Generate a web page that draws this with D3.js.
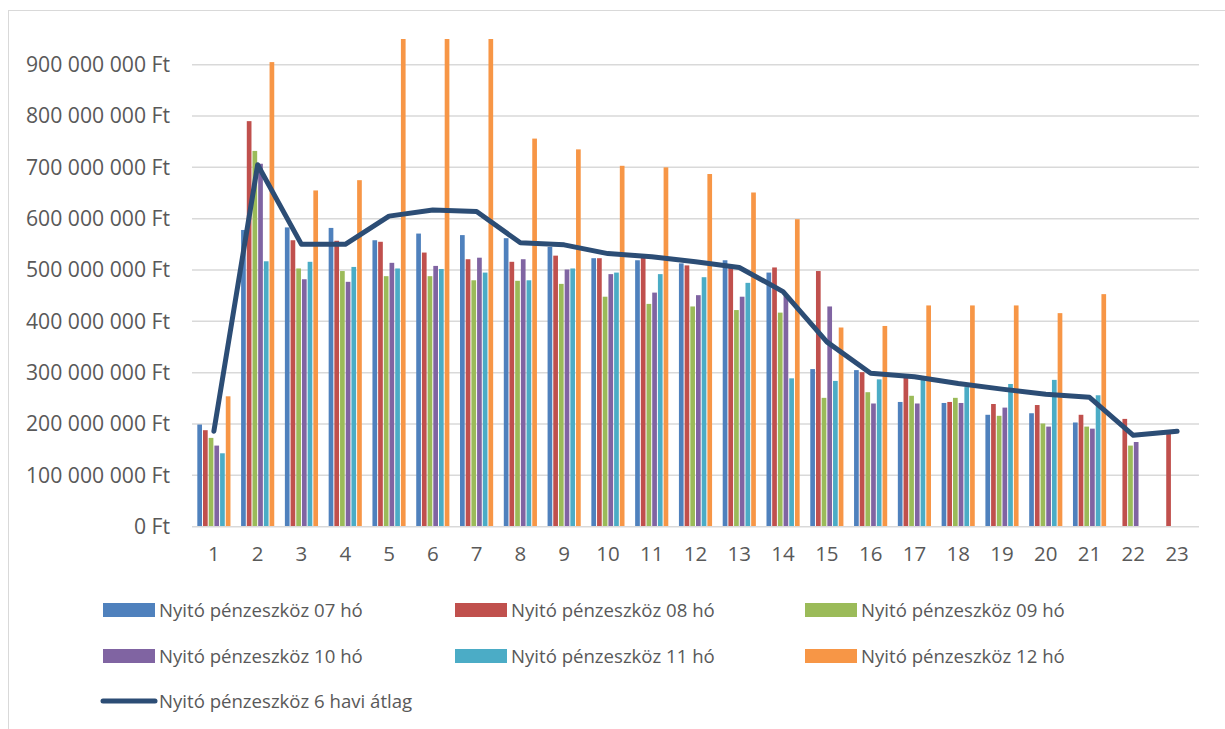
<!DOCTYPE html>
<html>
<head>
<meta charset="utf-8">
<script src="https://cdn.jsdelivr.net/npm/d3@7"></script>
<style>
  html, body { margin: 0; padding: 0; background: #ffffff; }
  svg { display: block; }
  text { font-family: "Open Sans", "DejaVu Sans", sans-serif; fill: #595959; }
</style>
</head>
<body>
<svg id="chart" width="1225" height="729"></svg>
<script>
// Months (categories) 1..23
const categories = d3.range(1, 24).map(String);

// Opening cash balances, million Ft
const nyito07 = [199, 578, 583, 582, 558, 571, 568, 562, 545, 523, 519, 513, 519, 495, 307, 305, 243, 241, 218, 221, 203, null, null];
const nyito08 = [188, 790, 558, 557, 555, 534, 521, 516, 528, 523, 530, 509, 505, 505, 498, 301, 293, 243, 239, 237, 218, 210, 186];
const nyito09 = [173, 732, 503, 498, 488, 488, 480, 479, 473, 448, 434, 429, 422, 417, 251, 262, 255, 251, 216, 201, 195, 158, null];
const nyito10 = [158, 707, 482, 477, 514, 508, 524, 521, 501, 492, 456, 451, 448, 450, 429, 240, 240, 241, 232, 195, 191, 165, null];
const nyito11 = [143, 517, 516, 506, 503, 502, 495, 480, 503, 495, 492, 486, 475, 289, 284, 287, 286, 272, 278, 286, 256, null, null];
const nyito12 = [254, 905, 655, 675, 1010, 1100, 1095, 756, 735, 703, 700, 687, 651, 599, 388, 391, 431, 431, 431, 416, 453, null, null];
// Six-month average
const atlag6 = [186, 705, 550, 550, 605, 617, 614, 553, 549, 532, 526, 516, 505, 458, 360, 299, 292, 279, 268, 258, 252, 178, 186];

const yTicks = [0, 100, 200, 300, 400, 500, 600, 700, 800, 900];
const UNIT = 1e6;

const seriesNames = [
  "Nyitó pénzeszköz 07 hó", "Nyitó pénzeszköz 08 hó", "Nyitó pénzeszköz 09 hó",
  "Nyitó pénzeszköz 10 hó", "Nyitó pénzeszköz 11 hó", "Nyitó pénzeszköz 12 hó"
];
const seriesValues = [nyito07, nyito08, nyito09, nyito10, nyito11, nyito12];
const seriesColors = ["#4F81BD", "#C0504D", "#9BBB59", "#8064A2", "#4BACC6", "#F79646"];
const lineName = "Nyitó pénzeszköz 6 havi átlag";
const lineColor = "#2C4D75";

const svg = d3.select("#chart");

// chart frame
svg.append("rect")
  .attr("x", 8.5).attr("y", 10.5).attr("width", 1400).attr("height", 900)
  .attr("fill", "none").attr("stroke", "#d9d9d9").attr("stroke-width", 1);

const plot = { left: 192, right: 1199, top: 39, bottom: 526.7 };

const x = d3.scaleBand().domain(categories).range([plot.left, plot.right]).paddingInner(0.22).paddingOuter(0.11);
const xs = d3.scaleBand().domain(d3.range(seriesNames.length)).range([0, x.bandwidth()]);
const y = d3.scaleLinear().domain([0, 950 * UNIT]).range([plot.bottom, plot.top]);

const huLocale = d3.formatLocale({ decimal: ",", thousands: " ", grouping: [3], currency: ["", " Ft"] });
const fmt = huLocale.format(",.0f");

// gridlines
svg.append("g")
  .selectAll("line")
  .data(yTicks.slice(1))
  .join("line")
  .attr("x1", plot.left).attr("x2", plot.right)
  .attr("y1", d => y(d * UNIT)).attr("y2", d => y(d * UNIT))
  .attr("stroke", "#d9d9d9").attr("stroke-width", 1.5);

// y axis labels
const yAxis = d3.axisLeft(y)
  .tickValues(yTicks.map(d => d * UNIT))
  .tickFormat(d => fmt(d) + " Ft")
  .tickSize(0).tickPadding(22);
const yg = svg.append("g").attr("transform", `translate(${plot.left},0)`).call(yAxis);
yg.select(".domain").remove();
yg.selectAll("text").attr("font-size", 21.2).style("fill", "#595959")
  .attr("font-family", "\"Open Sans\", sans-serif");

// clip for bars exceeding the axis
svg.append("clipPath").attr("id", "plotClip")
  .append("rect").attr("x", plot.left).attr("y", plot.top)
  .attr("width", plot.right - plot.left).attr("height", plot.bottom - plot.top);

// bars
const barData = [];
seriesValues.forEach((vals, si) => {
  vals.forEach((v, ci) => {
    if (v !== null) barData.push({ si, cat: categories[ci], v });
  });
});
svg.append("g").attr("clip-path", "url(#plotClip)")
  .selectAll("rect")
  .data(barData)
  .join("rect")
  .attr("x", d => x(d.cat) + xs(d.si) + 0.5)
  .attr("width", xs.bandwidth() - 1)
  .attr("y", d => y(d.v * UNIT))
  .attr("height", d => y(0) - y(d.v * UNIT))
  .attr("fill", d => seriesColors[d.si]);

// x axis baseline
svg.append("line")
  .attr("x1", plot.left).attr("x2", plot.right)
  .attr("y1", y(0)).attr("y2", y(0))
  .attr("stroke", "#d9d9d9").attr("stroke-width", 1.5);

// x axis labels
const xAxis = d3.axisBottom(x).tickSize(0).tickPadding(20);
const xg = svg.append("g").attr("transform", `translate(0,${y(0)})`).call(xAxis);
xg.select(".domain").remove();
xg.selectAll("text").attr("font-size", 20.5).style("fill", "#595959")
  .attr("font-family", "\"Open Sans\", sans-serif");

// average line
const line = d3.line()
  .x((d, i) => x(categories[i]) + x.bandwidth() / 2)
  .y(d => y(d * UNIT));
svg.append("path")
  .datum(atlag6)
  .attr("d", line)
  .attr("fill", "none")
  .attr("stroke", lineColor)
  .attr("stroke-width", 5)
  .attr("stroke-linejoin", "round")
  .attr("stroke-linecap", "round");

// legend
const legendCols = [103, 455, 805];
const legendRows = [610, 656, 701];
const legend = svg.append("g");
seriesNames.forEach((name, i) => {
  const lx = legendCols[i % 3], ly = legendRows[Math.floor(i / 3)];
  legend.append("rect").attr("x", lx).attr("y", ly - 7).attr("width", 52).attr("height", 14)
    .attr("fill", seriesColors[i]);
  legend.append("text").attr("x", lx + 56).attr("y", ly).attr("dy", "0.35em")
    .attr("font-size", 18.6).text(name);
});
legend.append("line").attr("x1", 103).attr("x2", 155).attr("y1", legendRows[2]).attr("y2", legendRows[2])
  .attr("stroke", lineColor).attr("stroke-width", 5).attr("stroke-linecap", "round");
legend.append("text").attr("x", 159).attr("y", legendRows[2]).attr("dy", "0.35em")
  .attr("font-size", 18.6).text(lineName);
</script>
</body>
</html>
